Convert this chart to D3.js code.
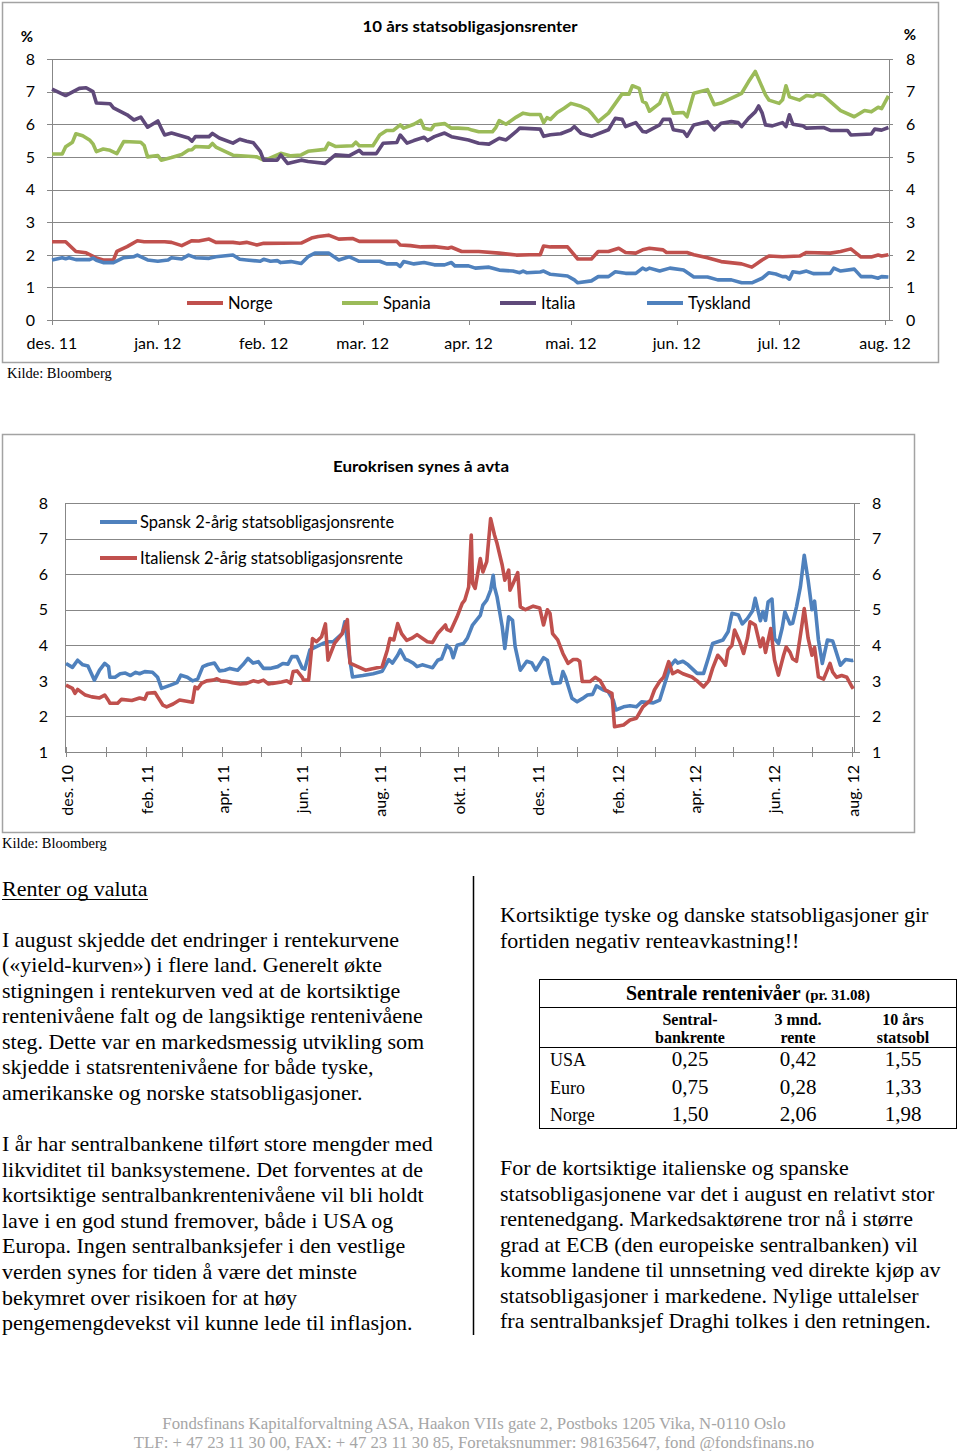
<!DOCTYPE html>
<html><head><meta charset="utf-8">
<script src="https://cdn.jsdelivr.net/npm/d3@7"></script>
<style>body{margin:0;background:#fff;}svg{display:block;}</style>
</head><body>
<svg id="page" width="960" height="1451"></svg>
<script>
// ---------------- DATA: top chart (10 års statsobligasjonsrenter) ----------------
const topTitle = "10 års statsobligasjonsrenter";
const topTickDates = ["2011-12-01","2012-01-01","2012-02-01","2012-03-01","2012-04-01","2012-05-01","2012-06-01","2012-07-01","2012-08-01"];
const topTickLabels = ["des. 11","jan. 12","feb. 12","mar. 12","apr. 12","mai. 12","jun. 12","jul. 12","aug. 12"];
const topYTicks = [0,1,2,3,4,5,6,7,8];
const topSeriesNames = ["Norge","Spania","Italia","Tyskland"];

const norge10 = [["2011-12-01",2.40],["2011-12-05",2.40],["2011-12-08",2.10],["2011-12-11",2.06],["2011-12-14",1.90],["2011-12-16",1.84],["2011-12-19",1.84],["2011-12-20",2.10],["2011-12-23",2.25],["2011-12-26",2.43],["2011-12-28",2.40],["2012-01-03",2.40],["2012-01-05",2.38],["2012-01-08",2.28],["2012-01-11",2.43],["2012-01-13",2.42],["2012-01-16",2.48],["2012-01-18",2.38],["2012-01-23",2.38],["2012-01-25",2.35],["2012-01-27",2.38],["2012-01-30",2.30],["2012-02-01",2.35],["2012-02-12",2.36],["2012-02-15",2.51],["2012-02-17",2.56],["2012-02-20",2.60],["2012-02-23",2.48],["2012-02-27",2.50],["2012-02-29",2.41],["2012-03-11",2.41],["2012-03-12",2.30],["2012-03-15",2.28],["2012-03-18",2.24],["2012-03-22",2.25],["2012-03-26",2.20],["2012-03-27",2.23],["2012-03-30",2.10],["2012-04-04",2.10],["2012-04-10",2.05],["2012-04-15",1.99],["2012-04-19",2.00],["2012-04-22",2.00],["2012-04-23",2.27],["2012-04-25",2.24],["2012-04-30",2.24],["2012-05-03",1.87],["2012-05-07",1.87],["2012-05-09",2.10],["2012-05-12",2.10],["2012-05-15",2.20],["2012-05-17",2.07],["2012-05-20",2.05],["2012-05-22",2.15],["2012-05-24",2.20],["2012-05-28",2.15],["2012-05-29",2.07],["2012-06-04",2.07],["2012-06-06",2.00],["2012-06-10",1.91],["2012-06-14",1.79],["2012-06-20",1.72],["2012-06-23",1.62],["2012-06-26",1.84],["2012-06-28",1.96],["2012-07-02",1.94],["2012-07-07",1.96],["2012-07-09",2.07],["2012-07-16",2.05],["2012-07-19",2.10],["2012-07-22",2.18],["2012-07-25",1.93],["2012-07-28",1.93],["2012-07-30",1.99],["2012-07-31",1.96],["2012-08-02",2.00]];

const spania10 = [["2011-12-01",5.09],["2011-12-04",5.09],["2011-12-05",5.31],["2011-12-07",5.45],["2011-12-08",5.71],["2011-12-10",5.65],["2011-12-12",5.52],["2011-12-13",5.40],["2011-12-14",5.16],["2011-12-16",5.24],["2011-12-18",5.20],["2011-12-20",5.10],["2011-12-22",5.47],["2011-12-27",5.45],["2011-12-28",5.35],["2011-12-29",5.00],["2012-01-01",5.04],["2012-01-02",4.90],["2012-01-05",4.98],["2012-01-08",5.07],["2012-01-10",5.21],["2012-01-11",5.22],["2012-01-12",5.32],["2012-01-16",5.30],["2012-01-17",5.41],["2012-01-18",5.30],["2012-01-23",5.05],["2012-01-30",5.00],["2012-02-01",4.90],["2012-02-02",4.92],["2012-02-06",5.11],["2012-02-09",5.03],["2012-02-12",5.06],["2012-02-14",5.17],["2012-02-19",5.23],["2012-02-20",5.42],["2012-02-22",5.32],["2012-02-27",5.34],["2012-02-28",5.45],["2012-02-29",5.34],["2012-03-04",5.34],["2012-03-06",5.67],["2012-03-08",5.81],["2012-03-10",5.81],["2012-03-12",5.98],["2012-03-13",5.88],["2012-03-16",6.00],["2012-03-18",6.12],["2012-03-19",5.88],["2012-03-21",5.83],["2012-03-22",5.98],["2012-03-25",6.02],["2012-03-27",5.88],["2012-03-29",5.88],["2012-04-01",5.86],["2012-04-02",5.82],["2012-04-04",5.77],["2012-04-08",5.77],["2012-04-09",5.90],["2012-04-10",6.11],["2012-04-12",6.00],["2012-04-15",6.22],["2012-04-17",6.34],["2012-04-19",6.30],["2012-04-22",6.30],["2012-04-23",6.05],["2012-04-24",6.20],["2012-04-25",6.15],["2012-04-27",6.36],["2012-04-29",6.49],["2012-05-01",6.64],["2012-05-04",6.55],["2012-05-06",6.45],["2012-05-07",6.34],["2012-05-09",6.08],["2012-05-12",6.34],["2012-05-16",6.93],["2012-05-18",6.92],["2012-05-19",7.18],["2012-05-21",7.10],["2012-05-22",6.70],["2012-05-23",6.65],["2012-05-24",6.40],["2012-05-27",6.64],["2012-05-28",6.90],["2012-05-29",6.95],["2012-05-31",6.34],["2012-06-03",6.36],["2012-06-04",6.23],["2012-06-06",6.95],["2012-06-10",7.06],["2012-06-12",6.60],["2012-06-14",6.65],["2012-06-20",6.95],["2012-06-22",7.30],["2012-06-24",7.62],["2012-06-27",6.90],["2012-06-28",6.74],["2012-07-01",6.64],["2012-07-02",6.75],["2012-07-03",7.18],["2012-07-04",6.84],["2012-07-07",6.74],["2012-07-09",6.88],["2012-07-11",6.85],["2012-07-12",6.92],["2012-07-14",6.88],["2012-07-17",6.60],["2012-07-19",6.42],["2012-07-23",6.23],["2012-07-26",6.42],["2012-07-28",6.38],["2012-07-30",6.52],["2012-07-31",6.48],["2012-08-02",6.87]];

const italia10 = [["2011-12-01",7.08],["2011-12-05",6.88],["2011-12-09",7.10],["2011-12-11",7.12],["2011-12-13",7.00],["2011-12-14",6.65],["2011-12-18",6.63],["2011-12-19",6.50],["2011-12-23",6.29],["2011-12-25",6.13],["2011-12-27",6.22],["2011-12-29",5.91],["2012-01-01",6.10],["2012-01-02",5.88],["2012-01-03",5.67],["2012-01-05",5.73],["2012-01-10",5.58],["2012-01-11",5.48],["2012-01-12",5.62],["2012-01-16",5.62],["2012-01-17",5.72],["2012-01-19",5.58],["2012-01-23",5.42],["2012-01-25",5.54],["2012-01-27",5.48],["2012-01-29",5.43],["2012-01-31",5.17],["2012-02-01",4.90],["2012-02-05",4.90],["2012-02-06",5.06],["2012-02-08",4.80],["2012-02-12",4.90],["2012-02-14",4.86],["2012-02-19",4.80],["2012-02-22",5.06],["2012-02-26",5.03],["2012-02-29",5.20],["2012-03-01",5.10],["2012-03-05",5.10],["2012-03-07",5.42],["2012-03-11",5.44],["2012-03-12",5.67],["2012-03-14",5.42],["2012-03-16",5.50],["2012-03-19",5.60],["2012-03-20",5.50],["2012-03-22",5.62],["2012-03-25",5.73],["2012-03-27",5.62],["2012-04-01",5.52],["2012-04-04",5.42],["2012-04-07",5.39],["2012-04-10",5.57],["2012-04-12",5.52],["2012-04-15",5.78],["2012-04-16",5.88],["2012-04-22",5.85],["2012-04-23",5.63],["2012-04-25",5.68],["2012-04-28",5.71],["2012-05-01",5.83],["2012-05-02",5.93],["2012-05-04",5.72],["2012-05-07",5.63],["2012-05-12",5.83],["2012-05-14",6.18],["2012-05-16",6.15],["2012-05-17",5.93],["2012-05-20",6.05],["2012-05-22",5.78],["2012-05-23",5.76],["2012-05-27",5.98],["2012-05-28",6.15],["2012-05-30",6.15],["2012-05-31",5.83],["2012-06-03",5.78],["2012-06-04",5.63],["2012-06-06",5.98],["2012-06-10",6.08],["2012-06-12",5.83],["2012-06-14",6.03],["2012-06-17",6.08],["2012-06-19",6.05],["2012-06-20",5.93],["2012-06-22",6.18],["2012-06-24",6.38],["2012-06-25",6.56],["2012-06-26",6.35],["2012-06-27",5.98],["2012-06-29",5.95],["2012-07-02",6.05],["2012-07-03",5.93],["2012-07-04",6.29],["2012-07-05",6.00],["2012-07-08",5.95],["2012-07-09",5.88],["2012-07-14",5.90],["2012-07-16",5.81],["2012-07-21",5.81],["2012-07-22",5.67],["2012-07-28",5.70],["2012-07-29",5.85],["2012-07-31",5.82],["2012-08-02",5.90]];

const tyskland10 = [["2011-12-01",1.84],["2011-12-04",1.91],["2011-12-05",1.88],["2011-12-06",1.91],["2011-12-08",1.85],["2011-12-12",1.85],["2011-12-13",1.90],["2011-12-14",1.83],["2011-12-16",1.76],["2011-12-19",1.76],["2011-12-22",1.91],["2011-12-25",1.94],["2011-12-26",1.99],["2011-12-29",1.84],["2012-01-01",1.80],["2012-01-04",1.84],["2012-01-05",1.91],["2012-01-08",1.87],["2012-01-10",1.99],["2012-01-12",1.91],["2012-01-16",1.89],["2012-01-18",1.94],["2012-01-23",1.99],["2012-01-25",1.86],["2012-01-27",1.84],["2012-01-31",1.80],["2012-02-01",1.86],["2012-02-03",1.80],["2012-02-05",1.82],["2012-02-06",1.76],["2012-02-09",1.79],["2012-02-12",1.73],["2012-02-14",1.94],["2012-02-16",2.05],["2012-02-20",2.05],["2012-02-23",1.84],["2012-02-26",1.94],["2012-02-29",1.80],["2012-03-06",1.80],["2012-03-08",1.72],["2012-03-11",1.72],["2012-03-12",1.64],["2012-03-13",1.79],["2012-03-16",1.72],["2012-03-19",1.76],["2012-03-22",1.69],["2012-03-25",1.69],["2012-03-27",1.76],["2012-03-28",1.66],["2012-04-01",1.66],["2012-04-03",1.59],["2012-04-07",1.62],["2012-04-10",1.53],["2012-04-14",1.50],["2012-04-16",1.45],["2012-04-17",1.50],["2012-04-18",1.45],["2012-04-22",1.47],["2012-04-23",1.50],["2012-04-25",1.40],["2012-04-30",1.35],["2012-05-02",1.23],["2012-05-03",1.14],["2012-05-07",1.20],["2012-05-09",1.33],["2012-05-12",1.33],["2012-05-14",1.48],["2012-05-17",1.43],["2012-05-20",1.43],["2012-05-22",1.59],["2012-05-23",1.54],["2012-05-24",1.59],["2012-05-27",1.50],["2012-05-30",1.59],["2012-06-03",1.53],["2012-06-06",1.32],["2012-06-10",1.32],["2012-06-13",1.23],["2012-06-17",1.23],["2012-06-20",1.14],["2012-06-23",1.14],["2012-06-26",1.28],["2012-06-28",1.45],["2012-06-30",1.41],["2012-07-02",1.33],["2012-07-03",1.33],["2012-07-04",1.25],["2012-07-05",1.48],["2012-07-07",1.45],["2012-07-09",1.50],["2012-07-11",1.42],["2012-07-16",1.43],["2012-07-17",1.59],["2012-07-19",1.50],["2012-07-23",1.56],["2012-07-25",1.33],["2012-07-28",1.33],["2012-07-30",1.28],["2012-07-31",1.33],["2012-08-02",1.32]];

// ---------------- DATA: bottom chart (Eurokrisen synes å avta) ----------------
const botTitle = "Eurokrisen synes å avta";
const botTickDates = ["2010-12-01","2011-01-01","2011-02-01","2011-03-01","2011-04-01","2011-05-01","2011-06-01","2011-07-01","2011-08-01","2011-09-01","2011-10-01","2011-11-01","2011-12-01","2012-01-01","2012-02-01","2012-03-01","2012-04-01","2012-05-01","2012-06-01","2012-07-01","2012-08-01"];
const botLabelDates = ["2010-12-01","2011-02-01","2011-04-01","2011-06-01","2011-08-01","2011-10-01","2011-12-01","2012-02-01","2012-04-01","2012-06-01","2012-08-01"];
const botLabels = ["des. 10","feb. 11","apr. 11","jun. 11","aug. 11","okt. 11","des. 11","feb. 12","apr. 12","jun. 12","aug. 12"];
const botYTicks = [1,2,3,4,5,6,7,8];
const botSeriesNames = ["Spansk 2-årig statsobligasjonsrente","Italiensk 2-årig statsobligasjonsrente"];

const spansk2 = [["2010-12-01",3.49],["2010-12-06",3.38],["2010-12-10",3.58],["2010-12-14",3.45],["2010-12-18",3.42],["2010-12-23",3.02],["2010-12-27",3.30],["2010-12-31",3.49],["2011-01-03",3.40],["2011-01-04",3.10],["2011-01-08",3.10],["2011-01-12",3.20],["2011-01-16",3.22],["2011-01-20",3.15],["2011-01-24",3.24],["2011-01-27",3.20],["2011-01-31",3.26],["2011-02-06",3.24],["2011-02-10",3.10],["2011-02-13",2.79],["2011-02-20",2.88],["2011-02-25",2.95],["2011-02-28",3.16],["2011-03-05",3.10],["2011-03-09",3.00],["2011-03-13",3.05],["2011-03-17",3.40],["2011-03-21",3.46],["2011-03-26",3.50],["2011-03-30",3.28],["2011-04-03",3.30],["2011-04-07",3.35],["2011-04-13",3.30],["2011-04-17",3.45],["2011-04-21",3.63],["2011-04-25",3.50],["2011-04-29",3.54],["2011-05-03",3.35],["2011-05-08",3.35],["2011-05-14",3.40],["2011-05-18",3.49],["2011-05-22",3.47],["2011-05-25",3.68],["2011-05-29",3.68],["2011-06-02",3.36],["2011-06-04",3.33],["2011-06-08",3.87],["2011-06-13",3.96],["2011-06-18",4.05],["2011-06-22",4.10],["2011-06-26",4.10],["2011-07-03",4.33],["2011-07-05",4.66],["2011-07-09",3.58],["2011-07-11",3.11],["2011-07-19",3.15],["2011-07-27",3.20],["2011-08-03",3.27],["2011-08-08",3.60],["2011-08-11",3.50],["2011-08-15",3.72],["2011-08-17",3.87],["2011-08-21",3.60],["2011-08-23",3.58],["2011-08-27",3.50],["2011-08-30",3.40],["2011-09-03",3.45],["2011-09-08",3.40],["2011-09-11",3.37],["2011-09-15",3.58],["2011-09-18",3.62],["2011-09-22",4.00],["2011-09-25",3.90],["2011-09-27",3.65],["2011-09-30",4.00],["2011-10-05",4.05],["2011-10-08",4.20],["2011-10-12",4.57],["2011-10-16",4.75],["2011-10-18",4.84],["2011-10-20",5.13],["2011-10-23",5.27],["2011-10-26",5.55],["2011-10-28",5.97],["2011-10-29",5.64],["2011-10-31",5.36],["2011-11-04",4.52],["2011-11-06",3.91],["2011-11-09",4.80],["2011-11-12",4.70],["2011-11-14",3.96],["2011-11-18",3.30],["2011-11-23",3.55],["2011-11-27",3.50],["2011-11-30",3.30],["2011-12-06",3.65],["2011-12-09",3.58],["2011-12-11",3.21],["2011-12-13",2.93],["2011-12-19",2.95],["2011-12-21",3.26],["2011-12-23",3.10],["2011-12-28",2.51],["2012-01-01",2.41],["2012-01-05",2.50],["2012-01-09",2.60],["2012-01-13",2.62],["2012-01-16",2.86],["2012-01-21",2.75],["2012-01-25",2.70],["2012-01-29",2.46],["2012-01-31",2.18],["2012-02-06",2.27],["2012-02-11",2.30],["2012-02-16",2.27],["2012-02-20",2.41],["2012-02-24",2.40],["2012-02-29",2.38],["2012-03-05",2.46],["2012-03-09",2.93],["2012-03-13",3.40],["2012-03-17",3.58],["2012-03-19",3.50],["2012-03-23",3.55],["2012-03-27",3.45],["2012-04-03",3.21],["2012-04-08",3.21],["2012-04-12",3.68],["2012-04-15",4.05],["2012-04-19",4.10],["2012-04-23",4.15],["2012-04-27",4.38],["2012-04-30",4.90],["2012-05-05",4.85],["2012-05-08",4.60],["2012-05-12",4.75],["2012-05-16",4.97],["2012-05-18",5.32],["2012-05-22",4.69],["2012-05-24",4.95],["2012-05-26",4.70],["2012-05-28",5.22],["2012-05-31",5.30],["2012-06-02",4.19],["2012-06-05",4.05],["2012-06-08",4.50],["2012-06-10",4.94],["2012-06-14",4.60],["2012-06-16",4.62],["2012-06-19",5.08],["2012-06-22",5.64],["2012-06-25",6.53],["2012-06-28",5.83],["2012-07-01",5.00],["2012-07-03",5.24],["2012-07-06",4.15],["2012-07-09",3.49],["2012-07-13",4.15],["2012-07-17",4.12],["2012-07-19",3.90],["2012-07-23",3.44],["2012-07-27",3.60],["2012-08-01",3.57],["2012-08-02",3.58]];

const italiensk2 = [["2010-12-01",2.88],["2010-12-06",2.79],["2010-12-08",2.65],["2010-12-10",2.76],["2010-12-16",2.60],["2010-12-21",2.55],["2010-12-27",2.52],["2010-12-31",2.60],["2011-01-03",2.44],["2011-01-04",2.37],["2011-01-10",2.37],["2011-01-13",2.48],["2011-01-21",2.45],["2011-01-27",2.52],["2011-01-31",2.48],["2011-02-02",2.65],["2011-02-08",2.67],["2011-02-10",2.55],["2011-02-14",2.32],["2011-02-17",2.27],["2011-02-22",2.35],["2011-02-27",2.46],["2011-03-09",2.40],["2011-03-11",2.83],["2011-03-13",2.78],["2011-03-16",2.93],["2011-03-20",3.00],["2011-03-25",3.02],["2011-03-28",3.06],["2011-03-31",3.00],["2011-04-05",2.98],["2011-04-09",2.95],["2011-04-15",2.91],["2011-04-20",2.93],["2011-04-25",3.00],["2011-04-29",2.97],["2011-05-03",3.02],["2011-05-07",2.91],["2011-05-10",2.93],["2011-05-17",2.97],["2011-05-21",3.00],["2011-05-24",2.93],["2011-05-26",3.26],["2011-05-29",3.28],["2011-06-02",3.10],["2011-06-03",3.02],["2011-06-07",3.02],["2011-06-10",4.19],["2011-06-13",4.10],["2011-06-17",4.24],["2011-06-20",4.60],["2011-06-22",3.58],["2011-06-27",4.05],["2011-07-03",4.33],["2011-07-07",4.72],["2011-07-09",3.50],["2011-07-15",3.40],["2011-07-21",3.30],["2011-07-30",3.37],["2011-08-03",3.40],["2011-08-07",3.87],["2011-08-09",4.19],["2011-08-12",4.15],["2011-08-15",4.61],["2011-08-18",4.33],["2011-08-22",4.14],["2011-08-26",4.20],["2011-08-30",4.30],["2011-09-03",4.20],["2011-09-07",4.10],["2011-09-11",4.08],["2011-09-15",4.33],["2011-09-21",4.57],["2011-09-22",4.45],["2011-09-25",4.40],["2011-09-30",4.80],["2011-10-04",5.18],["2011-10-06",5.27],["2011-10-09",5.64],["2011-10-11",7.10],["2011-10-12",5.74],["2011-10-14",5.60],["2011-10-18",6.44],["2011-10-20",6.06],["2011-10-23",6.35],["2011-10-26",7.56],["2011-10-29",7.10],["2011-10-31",6.86],["2011-11-04",6.25],["2011-11-06",5.83],["2011-11-09",6.11],["2011-11-10",5.55],["2011-11-12",5.70],["2011-11-16",6.04],["2011-11-18",5.08],["2011-11-22",5.00],["2011-11-28",5.10],["2011-12-03",5.05],["2011-12-06",4.57],["2011-12-09",5.00],["2011-12-11",4.90],["2011-12-13",4.33],["2011-12-17",4.15],["2011-12-21",3.77],["2011-12-25",3.49],["2011-12-29",3.60],["2012-01-01",3.60],["2012-01-03",3.55],["2012-01-05",2.98],["2012-01-11",2.98],["2012-01-15",3.10],["2012-01-19",3.00],["2012-01-23",2.74],["2012-01-28",2.65],["2012-01-30",1.71],["2012-02-06",1.76],["2012-02-11",1.90],["2012-02-16",1.95],["2012-02-21",2.27],["2012-02-27",2.46],["2012-03-01",2.75],["2012-03-05",2.98],["2012-03-08",3.10],["2012-03-12",3.54],["2012-03-15",3.20],["2012-03-19",3.28],["2012-03-23",3.20],["2012-03-30",3.11],["2012-04-03",3.00],["2012-04-08",2.83],["2012-04-12",3.00],["2012-04-15",3.35],["2012-04-19",3.72],["2012-04-22",3.60],["2012-04-25",3.44],["2012-04-27",3.87],["2012-04-30",4.00],["2012-05-02",4.43],["2012-05-06",4.10],["2012-05-09",3.77],["2012-05-12",4.20],["2012-05-14",4.66],["2012-05-18",4.57],["2012-05-22",3.96],["2012-05-24",4.20],["2012-05-26",3.80],["2012-05-30",4.47],["2012-06-02",3.58],["2012-06-05",3.16],["2012-06-09",3.72],["2012-06-11",3.95],["2012-06-14",3.80],["2012-06-16",3.62],["2012-06-19",3.55],["2012-06-23",4.52],["2012-06-25",5.03],["2012-06-28",4.20],["2012-07-01",3.72],["2012-07-03",3.94],["2012-07-06",3.11],["2012-07-10",3.05],["2012-07-15",3.49],["2012-07-17",3.25],["2012-07-20",3.10],["2012-07-24",3.15],["2012-07-28",3.10],["2012-08-01",2.83],["2012-08-02",2.78]];

// ---------------- DATA: table and text ----------------
const tableTitle = "Sentrale rentenivåer";
const tableSub = "(pr. 31.08)";
const tableCols = [["Sentral-","bankrente"],["3 mnd.","rente"],["10 års","statsobl"]];
const tableRows = ["USA","Euro","Norge"];
const tableValues = [["0,25","0,42","1,55"],["0,75","0,28","1,33"],["1,50","2,06","1,98"]];

const leftHeading = "Renter og valuta";
const leftPara1 = ["I august skjedde det endringer i rentekurvene","(«yield-kurven») i flere land. Generelt økte","stigningen i rentekurven ved at de kortsiktige","rentenivåene falt og de langsiktige rentenivåene","steg. Dette var en markedsmessig utvikling som","skjedde i statsrentenivåene for både tyske,","amerikanske og norske statsobligasjoner."];
const leftPara2 = ["I år har sentralbankene tilført store mengder med","likviditet til banksystemene. Det forventes at de","kortsiktige sentralbankrentenivåene vil bli holdt","lave i en god stund fremover, både i USA og","Europa. Ingen sentralbanksjefer i den vestlige","verden synes for tiden å være det minste","bekymret over risikoen for at høy","pengemengdevekst vil kunne lede til inflasjon."];
const rightPara1 = ["Kortsiktige tyske og danske statsobligasjoner gir","fortiden negativ renteavkastning!!"];
const rightPara2 = ["For de kortsiktige italienske og spanske","statsobligasjonene var det i august en relativt stor","rentenedgang. Markedsaktørene tror nå i større","grad at ECB (den europeiske sentralbanken) vil","komme landene til unnsetning ved direkte kjøp av","statsobligasjoner i markedene. Nylige uttalelser","fra sentralbanksjef Draghi tolkes i den retningen."];
const sourceText = "Kilde: Bloomberg";
const footer = ["Fondsfinans Kapitalforvaltning ASA, Haakon VIIs gate 2, Postboks 1205 Vika, N-0110 Oslo","TLF: + 47 23 11 30 00, FAX: + 47 23 11 30 85, Foretaksnummer: 981635647, fond @fondsfinans.no"];

// ---------------- DRAWING ----------------
const parse = d3.timeParse("%Y-%m-%d");
const svg = d3.select("#page");
const SANS = "Lato, 'Open Sans', sans-serif";
const SERIF = "'Liberation Serif', 'Times New Roman', serif";
const GRID = "#878787";
const FRAME = "#a3a3a3";
const C = {norge:"#C0504D", spania:"#9BBB59", italia:"#5F497A", tyskland:"#4F81BD"};
const px = v => Math.round(v) + 0.5;

// ===== Top chart =====
const gT = svg.append("g");
gT.append("rect").attr("x",2.5).attr("y",2.5).attr("width",936).attr("height",360)
  .attr("fill","#fff").attr("stroke",FRAME).attr("stroke-width",1.5);
const xT = d3.scaleTime().domain([parse("2011-12-01"), parse("2012-08-01")]).range([52, 885]);
const yT = d3.scaleLinear().domain([0, 8]).range([320, 59]);
const TL = 52, TR = 889;

gT.selectAll("line.grid").data(topYTicks).join("line")
  .attr("x1", TL-5).attr("x2", TR+4).attr("y1", d=>px(yT(d))).attr("y2", d=>px(yT(d)))
  .attr("stroke", GRID).attr("stroke-width", 1);
[TL, TR].forEach(x => gT.append("line").attr("x1",px(x)).attr("x2",px(x))
  .attr("y1",yT(8)).attr("y2",yT(0)).attr("stroke",GRID).attr("stroke-width",1));
gT.selectAll("line.xt").data(topTickDates).join("line")
  .attr("x1", d=>px(xT(parse(d)))).attr("x2", d=>px(xT(parse(d))))
  .attr("y1", yT(0)).attr("y2", yT(0)+5).attr("stroke", GRID);
gT.selectAll("text.xl").data(topTickDates).join("text")
  .attr("x", d=>xT(parse(d))).attr("y", 349).attr("text-anchor","middle")
  .attr("font-family",SANS).attr("font-size",16).attr("fill","#000")
  .text((d,i)=>topTickLabels[i]);
gT.selectAll("text.yl").data(topYTicks).join("text")
  .attr("x", 35).attr("y", d=>yT(d)).attr("dy","0.36em").attr("text-anchor","end")
  .attr("font-family",SANS).attr("font-size",16).text(d=>d);
gT.selectAll("text.yr").data(topYTicks).join("text")
  .attr("x", 906).attr("y", d=>yT(d)).attr("dy","0.36em").attr("text-anchor","start")
  .attr("font-family",SANS).attr("font-size",16).text(d=>d);
gT.append("text").attr("x",27).attr("y",42).attr("text-anchor","middle")
  .attr("font-family",SANS).attr("font-weight","bold").attr("font-size",15).text("%");
gT.append("text").attr("x",910).attr("y",40).attr("text-anchor","middle")
  .attr("font-family",SANS).attr("font-weight","bold").attr("font-size",15).text("%");
gT.append("text").attr("x",470).attr("y",32).attr("text-anchor","middle")
  .attr("font-family",SANS).attr("font-weight","bold").attr("font-size",16)
  .attr("textLength",215).attr("lengthAdjust","spacingAndGlyphs").text(topTitle);

const lineT = d3.line().x(d=>xT(parse(d[0]))).y(d=>yT(d[1]));
const topSeries = [[norge10,C.norge],[spania10,C.spania],[italia10,C.italia],[tyskland10,C.tyskland]];
topSeries.forEach(([data,col]) => gT.append("path").attr("d", lineT(data))
  .attr("fill","none").attr("stroke",col).attr("stroke-width",3.6)
  .attr("stroke-linejoin","round").attr("stroke-linecap","butt"));

const topLegX = [187, 342, 500, 647];
const topLegCol = [C.norge, C.spania, C.italia, C.tyskland];
topSeriesNames.forEach((n,i) => {
  gT.append("line").attr("x1",topLegX[i]).attr("x2",topLegX[i]+36).attr("y1",303).attr("y2",303)
    .attr("stroke",topLegCol[i]).attr("stroke-width",4);
  gT.append("text").attr("x",topLegX[i]+41).attr("y",303).attr("dy","0.36em")
    .attr("font-family",SANS).attr("font-size",16.5).text(n);
});
svg.append("text").attr("x",7).attr("y",378).attr("font-family",SERIF).attr("font-size",14.5).text(sourceText);

// ===== Bottom chart =====
const gB = svg.append("g");
gB.append("rect").attr("x",2.5).attr("y",434.5).attr("width",912).attr("height",398)
  .attr("fill","#fff").attr("stroke",FRAME).attr("stroke-width",1.5);
const xB = d3.scaleTime().domain([parse("2010-12-01"), parse("2012-08-01")]).range([66, 852]);
const yB = d3.scaleLinear().domain([1, 8]).range([752, 503]);
const BL = 65, BR = 854;
gB.selectAll("line.grid").data(botYTicks).join("line")
  .attr("x1", BL).attr("x2", BR+6).attr("y1", d=>px(yB(d))).attr("y2", d=>px(yB(d)))
  .attr("stroke", GRID).attr("stroke-width", 1);
[BL, BR].forEach(x => gB.append("line").attr("x1",px(x)).attr("x2",px(x))
  .attr("y1",yB(8)).attr("y2",yB(1)).attr("stroke",GRID).attr("stroke-width",1));
gB.selectAll("line.xt").data(botTickDates).join("line")
  .attr("x1", d=>px(xB(parse(d)))).attr("x2", d=>px(xB(parse(d))))
  .attr("y1", yB(1)-5).attr("y2", yB(1)+5).attr("stroke", GRID);
gB.selectAll("text.xl").data(botLabelDates).join("text")
  .attr("transform", d=>`translate(${xB(parse(d))+1},765) rotate(-90)`)
  .attr("dy","0.36em").attr("text-anchor","end")
  .attr("font-family",SANS).attr("font-size",16).text((d,i)=>botLabels[i]);
gB.selectAll("text.yl").data(botYTicks).join("text")
  .attr("x", 48).attr("y", d=>yB(d)).attr("dy","0.36em").attr("text-anchor","end")
  .attr("font-family",SANS).attr("font-size",16).text(d=>d);
gB.selectAll("text.yr").data(botYTicks).join("text")
  .attr("x", 872).attr("y", d=>yB(d)).attr("dy","0.36em").attr("text-anchor","start")
  .attr("font-family",SANS).attr("font-size",16).text(d=>d);
gB.append("text").attr("x",421).attr("y",472).attr("text-anchor","middle")
  .attr("font-family",SANS).attr("font-weight","bold").attr("font-size",16)
  .attr("textLength",176).attr("lengthAdjust","spacingAndGlyphs").text(botTitle);

const lineB = d3.line().x(d=>xB(parse(d[0]))).y(d=>yB(d[1]));
[[spansk2,C.tyskland],[italiensk2,C.norge]].forEach(([data,col]) => gB.append("path").attr("d", lineB(data))
  .attr("fill","none").attr("stroke",col).attr("stroke-width",3.6)
  .attr("stroke-linejoin","round"));
const botLegY = [522, 558];
const botLegCol = [C.tyskland, C.norge];
botSeriesNames.forEach((n,i) => {
  gB.append("line").attr("x1",100).attr("x2",137).attr("y1",botLegY[i]).attr("y2",botLegY[i])
    .attr("stroke",botLegCol[i]).attr("stroke-width",4);
  gB.append("text").attr("x",140).attr("y",botLegY[i]).attr("dy","0.36em")
    .attr("font-family",SANS).attr("font-size",16.5).text(n);
});
svg.append("text").attr("x",2).attr("y",848).attr("font-family",SERIF).attr("font-size",14.5).text(sourceText);

// ===== Text columns =====
const gX = svg.append("g").attr("font-family",SERIF).attr("font-size",22).attr("fill","#000");
gX.append("text").attr("x",2).attr("y",896).text(leftHeading);
gX.append("line").attr("x1",2).attr("x2",148).attr("y1",899.5).attr("y2",899.5).attr("stroke","#000").attr("stroke-width",1);
const writeLines = (lines, x, y0, step) => lines.forEach((t,i)=>gX.append("text").attr("x",x).attr("y",y0+i*step).text(t));
writeLines(leftPara1, 2, 947, 25.45);
writeLines(leftPara2, 2, 1151, 25.6);
writeLines(rightPara1, 500, 922, 25.5);
writeLines(rightPara2, 500, 1175, 25.5);
svg.append("line").attr("x1",473.5).attr("x2",473.5).attr("y1",876).attr("y2",1335).attr("stroke","#000").attr("stroke-width",1.5);

// ===== Table =====
const gTab = svg.append("g").attr("font-family",SERIF);
gTab.append("rect").attr("x",539.5).attr("y",979.5).attr("width",417).attr("height",149).attr("fill","none").attr("stroke","#000").attr("stroke-width",1);
[1007.5, 1047.5].forEach(y=>gTab.append("line").attr("x1",539.5).attr("x2",956.5).attr("y1",y).attr("y2",y).attr("stroke","#000").attr("stroke-width",1));
const tt = gTab.append("text").attr("x",748).attr("y",1000).attr("text-anchor","middle").attr("font-weight","bold");
tt.append("tspan").attr("font-size",20).text(tableTitle + " ");
tt.append("tspan").attr("font-size",15).text(tableSub);
const colX = [690, 798, 903];
tableCols.forEach((c,i)=>c.forEach((t,j)=>gTab.append("text").attr("x",colX[i]).attr("y",1025+j*18)
  .attr("text-anchor","middle").attr("font-weight","bold").attr("font-size",16).text(t)));
tableRows.forEach((r,i)=>{
  const y = 1066 + i*27.5;
  gTab.append("text").attr("x",550).attr("y",y).attr("font-size",18).text(r);
  tableValues[i].forEach((v,j)=>gTab.append("text").attr("x",colX[j]).attr("y",y)
    .attr("text-anchor","middle").attr("font-size",21).text(v));
});

// ===== Footer =====
footer.forEach((t,i)=>svg.append("text").attr("x",474).attr("y",1429+i*19).attr("text-anchor","middle")
  .attr("font-family",SERIF).attr("font-size",16.8).attr("fill","#a6a6a6").text(t));
</script>
</body></html>
